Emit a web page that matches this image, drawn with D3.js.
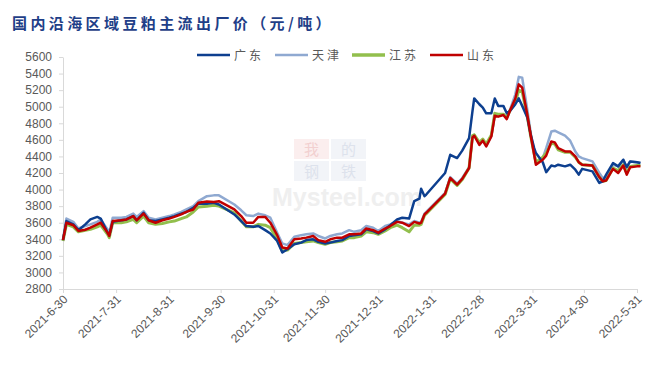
<!DOCTYPE html>
<html>
<head>
<meta charset="utf-8">
<script src="https://cdn.jsdelivr.net/npm/d3@7"></script>
<style>
  body { margin: 0; background: #fff; }
  svg { display: block; }
  .axis text { font-family: "Liberation Sans", Arial, sans-serif; font-size: 12px; fill: #595959; }
  .axis path, .axis line { stroke: #d9d9d9; }
</style>
</head>
<body>
<div class="chart"></div>
<script>
var width = 670, height = 377;

// dates and prices (元/吨)
var dates = ["2021-06-30","2021-07-02","2021-07-06","2021-07-09","2021-07-13","2021-07-16","2021-07-20","2021-07-22",
  "2021-07-26","2021-07-27","2021-07-29","2021-08-03","2021-08-06","2021-08-10","2021-08-12","2021-08-16","2021-08-19",
  "2021-08-23","2021-08-27","2021-08-31","2021-09-03","2021-09-07","2021-09-10","2021-09-14","2021-09-17","2021-09-22",
  "2021-09-26","2021-09-29","2021-10-08","2021-10-12","2021-10-15","2021-10-19","2021-10-22","2021-10-26","2021-10-29",
  "2021-11-02","2021-11-05","2021-11-08","2021-11-12","2021-11-16","2021-11-19","2021-11-23","2021-11-26","2021-11-30",
  "2021-12-03","2021-12-07","2021-12-10","2021-12-14","2021-12-17","2021-12-21","2021-12-24","2021-12-28","2021-12-31",
  "2022-01-04","2022-01-07","2022-01-11","2022-01-14","2022-01-18","2022-01-21","2022-01-24","2022-01-25","2022-01-27",
  "2022-01-28","2022-02-08","2022-02-11","2022-02-15","2022-02-18","2022-02-22","2022-02-24","2022-02-25","2022-02-28",
  "2022-03-02","2022-03-04","2022-03-07","2022-03-09","2022-03-11","2022-03-14","2022-03-16","2022-03-18","2022-03-21",
  "2022-03-23","2022-03-25","2022-03-28","2022-03-30","2022-04-01","2022-04-02","2022-04-06","2022-04-08","2022-04-11",
  "2022-04-13","2022-04-15","2022-04-19","2022-04-22","2022-04-25","2022-04-27","2022-04-29","2022-05-05","2022-05-09",
  "2022-05-11","2022-05-13","2022-05-17","2022-05-20","2022-05-23","2022-05-25","2022-05-27","2022-05-31","2022-06-02"];

var guangdong = [3390,3620,3580,3510,3580,3640,3670,3650,3480,3450,3610,3630,3640,3680,3630,3720,3630,3620,3640,3660,
  3680,3710,3730,3780,3830,3830,3840,3820,3700,3620,3560,3550,3560,3510,3470,3380,3240,3280,3340,3360,3390,3400,3370,
  3350,3360,3380,3390,3440,3450,3460,3520,3500,3470,3520,3570,3640,3660,3650,3860,3890,4010,3920,3940,4200,4420,4380,
  4470,4620,4950,5100,5030,4990,4920,4920,5100,5010,5010,4920,4950,5030,5100,5010,4870,4660,4500,4440,4330,4210,4290,
  4280,4300,4280,4300,4240,4180,4250,4220,4080,4100,4180,4320,4280,4360,4270,4340,4330,4320];

var tianjin = [3400,3650,3610,3530,3560,3580,3610,3640,3520,3480,3660,3660,3670,3710,3670,3740,3660,3640,3660,3680,
  3700,3730,3760,3800,3860,3920,3930,3930,3820,3750,3690,3680,3710,3690,3660,3480,3350,3330,3430,3450,3460,3470,3440,
  3410,3440,3460,3470,3510,3490,3510,3560,3540,3500,3560,3580,3620,3600,3580,3620,3600,3610,3710,3730,3960,4150,4070,
  4140,4270,4640,4660,4550,4600,4530,4650,4900,4890,4910,4860,4970,5150,5360,5350,4960,4680,4440,4320,4380,4500,4700,
  4710,4690,4650,4590,4460,4400,4380,4340,4200,4140,4150,4300,4280,4360,4270,4340,4330,4320];

var jiangsu = [3380,3580,3550,3490,3510,3520,3550,3570,3460,3420,3600,3600,3610,3640,3600,3680,3600,3580,3590,3610,
  3620,3650,3670,3730,3790,3800,3810,3800,3720,3620,3550,3550,3580,3570,3540,3400,3260,3270,3350,3360,3370,3380,3360,
  3340,3360,3370,3380,3420,3420,3440,3490,3480,3460,3500,3540,3570,3540,3490,3570,3570,3580,3690,3710,3940,4130,4050,
  4120,4260,4650,4660,4570,4610,4550,4660,4920,4910,4910,4870,4960,5050,5200,5180,4880,4640,4430,4330,4390,4440,4560,
  4550,4480,4450,4450,4390,4330,4300,4290,4150,4100,4110,4260,4230,4300,4200,4280,4290,4290];

var shandong = [3390,3600,3570,3500,3515,3540,3580,3600,3480,3440,3620,3630,3640,3680,3630,3710,3630,3600,3630,3650,
  3670,3700,3730,3760,3840,3855,3850,3860,3760,3680,3600,3600,3670,3670,3600,3450,3300,3290,3400,3410,3420,3440,3390,
  3370,3400,3420,3420,3460,3460,3470,3530,3510,3480,3530,3560,3610,3600,3560,3610,3590,3600,3700,3720,3950,4140,4060,
  4130,4260,4630,4650,4540,4590,4520,4640,4890,4880,4900,4850,4960,5100,5270,5230,4900,4650,4420,4300,4360,4410,4580,
  4570,4500,4460,4460,4400,4330,4300,4290,4150,4100,4110,4250,4200,4290,4180,4270,4280,4280];

var seriesNames = ["广东", "天津", "江苏", "山东"];
var seriesColors = ["#0d3f8f", "#8fa9d1", "#92bf4d", "#c00000"];
var seriesWidths = [2.5, 2.5, 3, 2.5];
var yTicks = d3.range(2800, 5601, 200);
var xTickDates = ["2021-06-30","2021-07-31","2021-08-31","2021-09-30","2021-10-31","2021-11-30","2021-12-31",
  "2022-01-31","2022-02-28","2022-03-31","2022-04-30","2022-05-31"];

var parse = d3.timeParse("%Y-%m-%d");
var series = [guangdong, tianjin, jiangsu, shandong];

var svg = d3.select(".chart").append("svg")
    .attr("width", width)
    .attr("height", height);

var x = d3.scaleTime()
    .domain([parse("2021-06-30"), parse("2022-05-31")])
    .range([63, 637]);

var y = d3.scaleLinear()
    .domain([2800, 5600])
    .range([289, 57]);

// title
svg.append("text")
    .attr("x", 12)
    .attr("y", 29)
    .style("font-family", "'Noto Sans CJK SC', sans-serif")
    .style("font-size", "15px")
    .style("font-weight", "bold")
    .style("letter-spacing", "3.4px")
    .style("fill", "#1f3f88")
    .text("国内沿海区域豆粕主流出厂价（元/吨）");

// watermark (我的钢铁 Mysteel.com)
var wm = svg.append("g").attr("class", "watermark");
var wmChars = [
    { t: "我", x: 294, y: 139, bg: "#fbeeee", fg: "#f2d0d0" },
    { t: "的", x: 331, y: 139, bg: "#f2f4f8", fg: "#dde2ec" },
    { t: "钢", x: 294, y: 161, bg: "#f2f4f8", fg: "#dde2ec" },
    { t: "铁", x: 331, y: 161, bg: "#f2f4f8", fg: "#dde2ec" }
];
wmChars.forEach(function (c) {
    wm.append("rect").attr("x", c.x).attr("y", c.y).attr("width", 35).attr("height", 20).style("fill", c.bg);
    wm.append("text").attr("x", c.x + 17.5).attr("y", c.y + 15.5).attr("text-anchor", "middle")
        .style("font-family", "'Noto Sans CJK SC', sans-serif").style("font-size", "15px")
        .style("fill", c.fg).text(c.t);
});
wm.append("text").attr("x", 272).attr("y", 206)
    .style("font-family", "'Liberation Sans', Arial, sans-serif").style("font-size", "25px")
    .style("font-weight", "bold").style("fill", "#efefef").text("Mysteel.com");

// axes
var yAxis = svg.append("g")
    .attr("class", "axis")
    .attr("transform", "translate(63,0)")
    .call(d3.axisLeft(y).tickValues(yTicks).tickSizeInner(4).tickSizeOuter(0).tickPadding(7)
        .tickFormat(d3.format("d")));

var xAxis = svg.append("g")
    .attr("class", "axis")
    .attr("transform", "translate(0,289)")
    .call(d3.axisBottom(x).tickValues(xTickDates.map(parse)).tickSizeInner(4).tickSizeOuter(0)
        .tickFormat(d3.timeFormat("%Y-%-m-%-d")));

xAxis.selectAll("text")
    .attr("text-anchor", "end")
    .attr("dy", null)
    .attr("y", 0)
    .attr("transform", "translate(5,11) rotate(-45)");

// lines
var line = d3.line()
    .x(function (d, i) { return x(parse(dates[i])); })
    .y(function (d) { return y(d); });

var order = [1, 2, 0, 3];
order.forEach(function (k) {
    svg.append("path")
        .datum(series[k])
        .attr("d", line)
        .style("fill", "none")
        .style("stroke", seriesColors[k])
        .style("stroke-width", seriesWidths[k])
        .style("stroke-linejoin", "round");
});

// legend
var legendX = [197, 275, 352, 430];
var legend = svg.append("g").attr("class", "legend");
seriesNames.forEach(function (name, i) {
    legend.append("line")
        .attr("x1", legendX[i]).attr("x2", legendX[i] + 33)
        .attr("y1", 55).attr("y2", 55)
        .style("stroke", seriesColors[i])
        .style("stroke-width", i == 2 ? 3.5 : 2.5);
    legend.append("text")
        .attr("x", legendX[i] + 37)
        .attr("y", 59.5)
        .style("font-family", "'Noto Sans CJK SC', sans-serif")
        .style("font-size", "12px")
        .style("letter-spacing", "3px")
        .style("fill", "#595959")
        .text(name);
});
</script>
</body>
</html>
